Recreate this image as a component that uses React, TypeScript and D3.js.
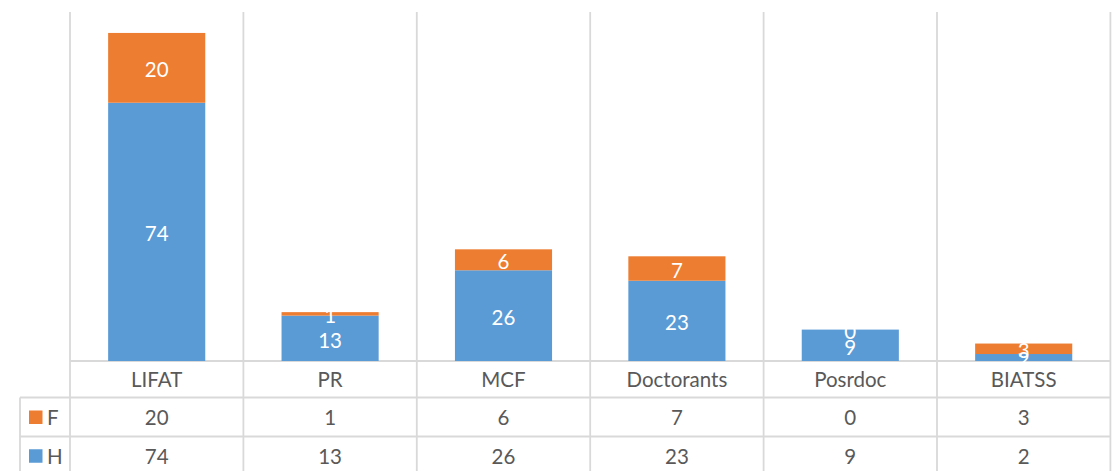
import React from "react";
import * as d3 from "d3";

const categories = ["LIFAT", "PR", "MCF", "Doctorants", "Posrdoc", "BIATSS"];
const seriesH = [74, 13, 26, 23, 9, 2];
const seriesF = [20, 1, 6, 7, 0, 3];
const seriesNames = ["F", "H"];
const colorH = "#5B9BD5";
const colorF = "#ED7D31";

export default function App() {
  const W = 1114, H = 471;
  const left = 70, right = 1110.4, top = 12, base = 361;
  const tableLeft = 20;
  const rowY = [361, 397.5, 436.5, 475];

  const x = d3.scaleBand<string>().domain(categories).range([left, right]).paddingInner(0.44).paddingOuter(0.22);
  const xb = d3.scaleBand<string>().domain(categories).range([left, right]).padding(0);
  const y = d3.scaleLinear().domain([0, 100]).range([base, top]);

  const stackData = categories.map((c, i) => ({ cat: c, H: seriesH[i], F: seriesF[i] }));
  const stack = d3.stack<any>().keys(["H", "F"])(stackData);
  const colors: Record<string, string> = { H: colorH, F: colorF };

  const font = "Lato, Carlito, Calibri, sans-serif";
  const grid = "#D9D9D9";
  const textCol = "#595959";
  const fs = 20.5;

  const bounds = categories.map((c) => xb(c)!).concat([right]);

  return (
    <svg width={W} height={H} style={{ position: "absolute", left: 0, top: 0, background: "#fff" }}>
      {bounds.map((bx, i) => (
        <line key={"v" + i} x1={bx} x2={bx} y1={top} y2={H} stroke={grid} strokeWidth={1.8} />
      ))}
      <line x1={tableLeft} x2={tableLeft} y1={rowY[1]} y2={H} stroke={grid} strokeWidth={1.8} />
      <line x1={left} x2={right} y1={rowY[0]} y2={rowY[0]} stroke={grid} strokeWidth={1.8} />
      <line x1={tableLeft} x2={right} y1={rowY[1]} y2={rowY[1]} stroke={grid} strokeWidth={1.8} />
      <line x1={tableLeft} x2={right} y1={rowY[2]} y2={rowY[2]} stroke={grid} strokeWidth={1.8} />

      {stack.map((s) => (
        <g key={s.key}>
          {s.map((d, i) => (
            <rect key={i} x={x(categories[i])} width={x.bandwidth()} y={y(d[1])} height={y(d[0]) - y(d[1])} fill={colors[s.key]} />
          ))}
        </g>
      ))}
      {stack.map((s) => (
        <g key={"l" + s.key}>
          {s.map((d, i) => (
            <text key={i} x={x(categories[i])! + x.bandwidth() / 2} y={(y(d[0]) + y(d[1])) / 2} dy="0.45em"
              textAnchor="middle" fill="#fff" fontFamily={font} fontSize={fs}>
              {(d.data as any)[s.key]}
            </text>
          ))}
        </g>
      ))}

      {categories.map((c) => (
        <text key={"c" + c} x={xb(c)! + xb.bandwidth() / 2} y={(rowY[0] + rowY[1]) / 2} dy="0.4em" textAnchor="middle"
          fill={textCol} fontFamily={font} fontSize={fs}>{c}</text>
      ))}
      {seriesNames.map((name, r) => {
        const vals = name === "F" ? seriesF : seriesH;
        const cy = (rowY[r + 1] + rowY[r + 2]) / 2;
        return (
          <g key={"r" + name}>
            <rect x={29} y={cy - 6.5} width={13.5} height={13.5} fill={name === "F" ? colorF : colorH} />
            <text x={47} y={cy} dy="0.4em" fill={textCol} fontFamily={font} fontSize={fs}>{name}</text>
            {vals.map((v, i) => (
              <text key={i} x={xb(categories[i])! + xb.bandwidth() / 2} y={cy} dy="0.4em" textAnchor="middle"
                fill={textCol} fontFamily={font} fontSize={fs}>{v}</text>
            ))}
          </g>
        );
      })}
    </svg>
  );
}
